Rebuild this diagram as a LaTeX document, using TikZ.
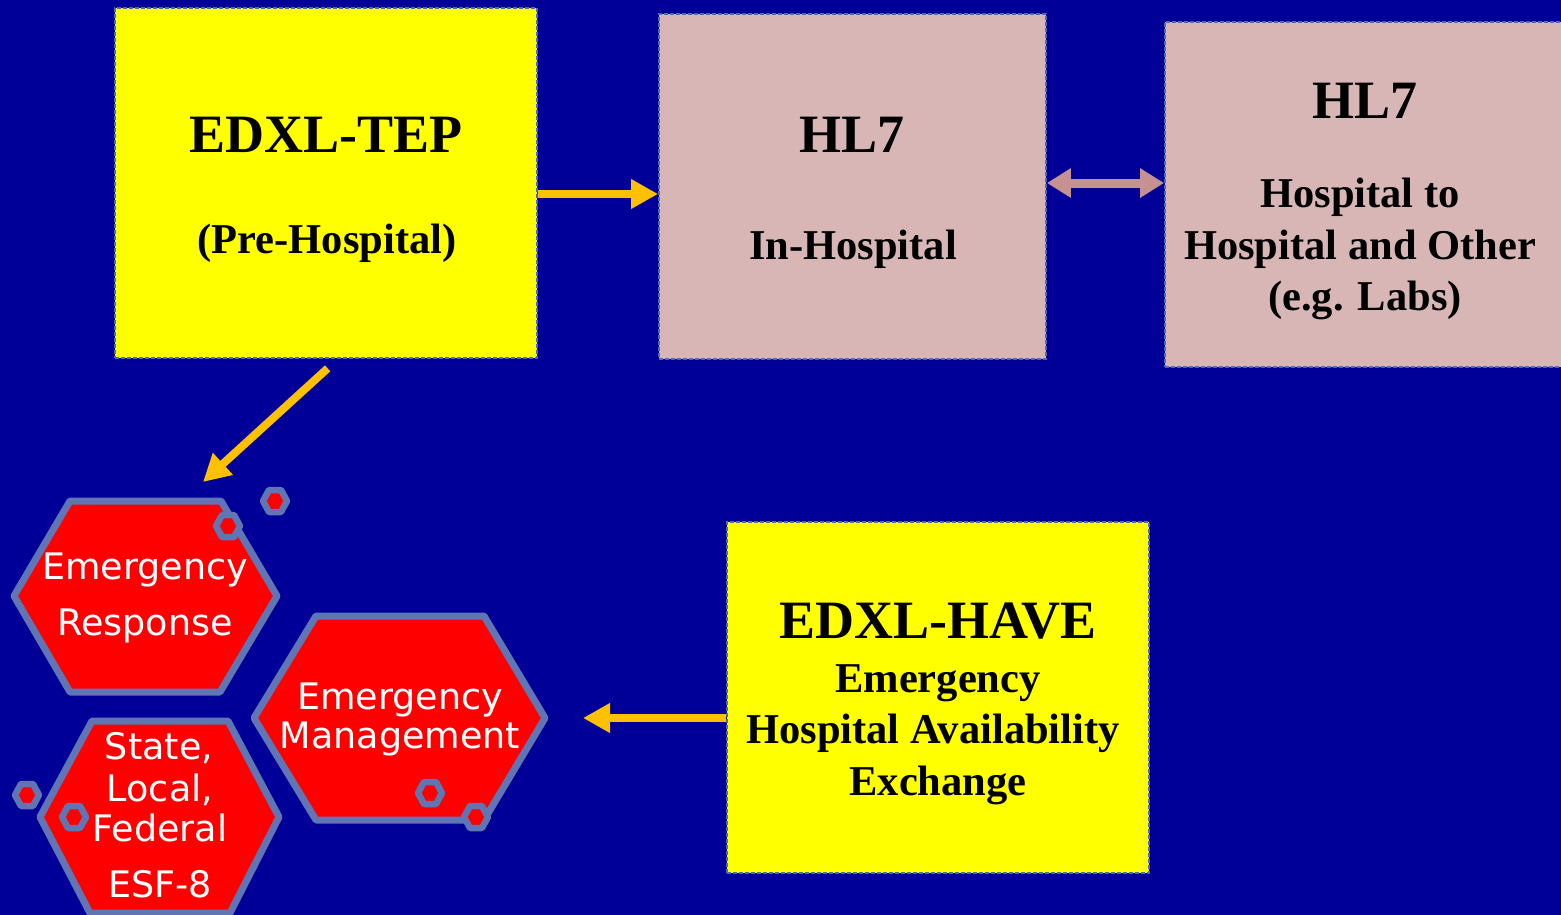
\documentclass[tikz,border=0pt]{standalone}
\usepackage{fontspec}
\setmainfont{Liberation Serif}
\newfontfamily\hexfont{DejaVu Sans}
\usetikzlibrary{arrows.meta}
\definecolor{bgblue}{RGB}{0,0,153}
\definecolor{boxyellow}{RGB}{255,255,0}
\definecolor{boxpink}{RGB}{217,182,182}
\definecolor{dashblue}{RGB}{75,108,176}
\definecolor{flowgold}{RGB}{255,192,0}
\definecolor{linkmauve}{RGB}{198,145,145}
\definecolor{hexedge}{RGB}{96,118,180}
\definecolor{hexred}{RGB}{255,0,0}
\begin{document}
\begin{tikzpicture}[x=1pt,y=-1pt,
  stdbox/.style={draw=dashblue, line width=1.8pt, dash pattern=on 4pt off 2pt, inner sep=0pt},
  title/.style={anchor=base, font=\bfseries\fontsize{54}{62}\selectfont, text=black},
  body/.style={anchor=base, font=\bfseries\fontsize{42.5}{50}\selectfont, text=black},
  hextext/.style={anchor=base, font=\hexfont\fontsize{36.5}{42}\selectfont, text=white},
  bighex/.style={draw=hexedge, fill=hexred, line width=7pt, line join=round},
  goldflow/.style={draw=flowgold, line width=8pt, -{Triangle[length=27pt,width=28pt]}},
  mauvelink/.style={draw=linkmauve, line width=9pt,
    {Triangle[length=24pt,width=28pt]}-{Triangle[length=24pt,width=28pt]}},
  smallhex/.pic={\draw[draw=hexedge, fill=hexred, line width=6.5pt, line join=round]
    (-12,0) -- (-6,-11) -- (6,-11) -- (12,0) -- (6,11) -- (-6,11) -- cycle;}
]
% background and page frame
\fill[bgblue] (0,0) rectangle (1561,915);
\useasboundingbox (0,0) rectangle (1561,915);

% message boxes
\node[stdbox, fill=boxyellow, minimum width=422pt, minimum height=350pt] (tep)  at (326,183) {};
\node[stdbox, fill=boxpink,   minimum width=387pt, minimum height=345pt] (hl7a) at (852.5,186.5) {};
\node[stdbox, fill=boxpink,   minimum width=400pt, minimum height=345pt] (hl7b) at (1365,194.5) {};
\node[stdbox, fill=boxyellow, minimum width=422pt, minimum height=351pt] (have) at (938,697.5) {};

% box captions
\node[title] (tepT) at (326,153) {EDXL-TEP};
\node[body]  (tepS) at (327,253) {(Pre-Hospital)};
\node[title] (hl7aT) at (852,153) {HL7};
\node[body]  (hl7aS) at (853,259) {In-Hospital};
\node[title] (hl7bT) at (1365,119) {HL7};
\node[body]  (hl7bA) at (1360,207) {Hospital to};
\node[body]  (hl7bB) at (1360,259) {Hospital and Other};
\node[body]  (hl7bC) at (1365,310) {(e.g. Labs)};
\node[title] (haveT) at (938,638) {EDXL-HAVE};
\node[body]  (haveA) at (938,692) {Emergency};
\node[body]  (haveB) at (933,743) {Hospital Availability};
\node[body]  (haveC) at (938,795) {Exchange};

% responder hexagons
\draw[bighex] (14,596) -- (70,501) -- (221,501) -- (277,596) -- (220,692) -- (70,692) -- cycle;
\draw[bighex] (254,718) -- (316,616) -- (484,616) -- (545,718) -- (484,820) -- (316,820) -- cycle;
\draw[bighex] (40,817) -- (92,721) -- (228,721) -- (279,817) -- (230,913) -- (90,913) -- cycle;

% small decorative hexagons
\pic at (275,501) {smallhex};
\pic at (228,526) {smallhex};
\pic at (27,795) {smallhex};
\pic at (74,817) {smallhex};
\pic at (430,793) {smallhex};
\pic at (476,817) {smallhex};

% hexagon captions
\node[hextext] (erA) at (145,579) {Emergency};
\node[hextext] (erB) at (145,635) {Response};
\node[hextext] (emA) at (400,709) {Emergency};
\node[hextext] (emB) at (400,748) {Management};
\node[hextext] (slA) at (159,759) {State,};
\node[hextext] (slB) at (160,801) {Local,};
\node[hextext] (slC) at (160,841) {Federal};
\node[hextext] (slD) at (160,897) {ESF-8};

% connectors
\path (tep.east) ++(0,11) coordinate (tepOut);
\draw[goldflow] (tepOut) -- (tepOut -| hl7a.west);

\path (hl7a.east) ++(0,-3.5) coordinate (linkL);
\draw[mauvelink] (linkL) -- (linkL -| hl7b.west);

\coordinate (erTip) at (203,482);
\draw[goldflow, shorten <=14pt] ([xshift=12pt]tep.south) -- (erTip);

\path (have.west) ++(0,20.5) coordinate (haveOut);
\coordinate (emTip) at (583,718);
\draw[goldflow] (haveOut) -- (emTip);
\end{tikzpicture}
\end{document}
